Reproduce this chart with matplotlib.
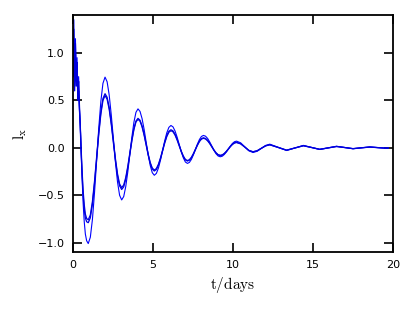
import matplotlib
matplotlib.use("Agg")
import matplotlib.pyplot as plt

plt.rcParams['mathtext.fontset'] = 'cm'

# values: outer curve (a) and two inner curves (b, c)
t_days = [0, 0.05, 0.1, 0.15, 0.2, 0.25, 0.3, 0.35, 0.4, 0.45, 0.5, 0.56, 0.63, 0.7, 0.77, 0.85, 0.95,
          1.081, 1.213, 1.344, 1.475, 1.606, 1.738, 1.869, 2.0,
          2.13, 2.26, 2.39, 2.52, 2.65, 2.78, 2.91, 3.04,
          3.168, 3.295, 3.423, 3.55, 3.678, 3.805, 3.933, 4.06,
          4.188, 4.315, 4.443, 4.57, 4.698, 4.825, 4.953, 5.08,
          5.21, 5.34, 5.47, 5.6, 5.73, 5.86, 5.99, 6.12,
          6.249, 6.378, 6.506, 6.635, 6.764, 6.893, 7.021, 7.15,
          7.275, 7.4, 7.525, 7.65, 7.775, 7.9, 8.025, 8.15,
          8.281, 8.413, 8.544, 8.675, 8.806, 8.938, 9.069, 9.2,
          9.328, 9.455, 9.583, 9.71, 9.838, 9.965, 10.093, 10.22,
          10.48, 10.735, 10.99, 11.25, 11.51, 11.775, 12.04, 12.3, 12.825, 13.35, 13.875,
          14.4, 14.91, 15.42, 15.945, 16.47, 16.985, 17.5, 18.025, 18.55, 19.05, 19.55, 19.7]

lx_a = [0.8, 1.35, 0.65, 1.15, 0.7, 0.95, 0.55, 0.75, 0.4, 0.25, 0.0, -0.3, -0.58, -0.78, -0.91, -0.98, -1.01,
        -0.943, -0.753, -0.469, -0.133, 0.204, 0.488, 0.679, 0.745,
        0.696, 0.556, 0.346, 0.098, -0.151, -0.361, -0.501, -0.55,
        -0.514, -0.409, -0.254, -0.07, 0.114, 0.269, 0.374, 0.41,
        0.383, 0.307, 0.194, 0.06, -0.074, -0.187, -0.263, -0.29,
        -0.27, -0.213, -0.128, -0.028, 0.073, 0.158, 0.215, 0.235,
        0.22, 0.176, 0.112, 0.035, -0.042, -0.106, -0.15, -0.165,
        -0.154, -0.122, -0.074, -0.018, 0.039, 0.087, 0.119, 0.13,
        0.122, 0.098, 0.061, 0.018, -0.026, -0.063, -0.087, -0.095,
        -0.089, -0.071, -0.045, -0.013, 0.019, 0.046, 0.064, 0.07,
        0.052, 0.01, -0.032, -0.05, -0.037, -0.006, 0.025, 0.038, 0.0045, -0.029, -0.002,
        0.025, 0.0035, -0.018, -0.001, 0.016, 0.003, -0.01, -0.0005, 0.009, 0.002, -0.005, -0.003]

lx_b = [0.9, 1.25, 0.7, 1.1, 0.75, 0.9, 0.6, 0.7, 0.45, 0.25, 0.02, -0.22, -0.45, -0.6, -0.7, -0.745, -0.76,
        -0.709, -0.565, -0.35, -0.095, 0.16, 0.375, 0.519, 0.57,
        0.532, 0.425, 0.265, 0.075, -0.115, -0.275, -0.382, -0.42,
        -0.392, -0.313, -0.195, -0.055, 0.085, 0.203, 0.282, 0.31,
        0.29, 0.23, 0.142, 0.038, -0.067, -0.155, -0.214, -0.235,
        -0.219, -0.173, -0.104, -0.023, 0.059, 0.128, 0.174, 0.19,
        0.178, 0.142, 0.09, 0.028, -0.035, -0.087, -0.123, -0.135,
        -0.126, -0.1, -0.061, -0.015, 0.031, 0.07, 0.096, 0.105,
        0.098, 0.078, 0.048, 0.013, -0.023, -0.053, -0.073, -0.08,
        -0.075, -0.06, -0.037, -0.011, 0.015, 0.038, 0.053, 0.058,
        0.043, 0.008, -0.028, -0.043, -0.032, -0.005, 0.021, 0.032, 0.0035, -0.025, -0.0015,
        0.022, 0.003, -0.016, -0.001, 0.014, 0.0025, -0.009, 0.0, 0.008, 0.002, -0.004, -0.002]

lx_c = [0.75, 1.15, 0.6, 1.0, 0.65, 0.85, 0.5, 0.6, 0.4, 0.22, -0.02, -0.27, -0.5, -0.65, -0.74, -0.78, -0.79,
        -0.739, -0.594, -0.377, -0.12, 0.137, 0.354, 0.499, 0.55,
        0.512, 0.405, 0.245, 0.055, -0.135, -0.295, -0.402, -0.44,
        -0.412, -0.332, -0.212, -0.07, 0.072, 0.192, 0.272, 0.30,
        0.28, 0.22, 0.132, 0.028, -0.077, -0.165, -0.224, -0.245,
        -0.229, -0.183, -0.114, -0.033, 0.049, 0.118, 0.164, 0.18,
        0.168, 0.133, 0.081, 0.02, -0.041, -0.093, -0.128, -0.14,
        -0.131, -0.105, -0.066, -0.02, 0.026, 0.065, 0.091, 0.10,
        0.093, 0.073, 0.044, 0.009, -0.026, -0.055, -0.075, -0.082,
        -0.077, -0.062, -0.04, -0.014, 0.013, 0.035, 0.05, 0.055,
        0.041, 0.007, -0.028, -0.042, -0.031, -0.005, 0.02, 0.031, 0.003, -0.026, -0.002,
        0.021, 0.0025, -0.017, -0.002, 0.013, 0.002, -0.01, -0.001, 0.007, 0.001, -0.004, -0.002]

x_ticks = [0, 5, 10, 15, 20]
y_ticks = [-1.0, -0.5, 0.0, 0.5, 1.0]

fig = plt.figure(figsize=(4.15, 3.12), dpi=100)
ax = fig.add_axes([0.176, 0.192, 0.771, 0.760])

ax.plot(t_days, lx_a, color='#0000ff', lw=0.8)
ax.plot(t_days, lx_b, color='#0000dd', lw=0.9)
ax.plot(t_days, lx_c, color='#0000dd', lw=0.9)

ax.set_xlim(0, 20)
ax.set_ylim(-1.1, 1.4)
ax.set_xticks(x_ticks)
ax.set_yticks(y_ticks)
ax.set_xticklabels([str(v) for v in x_ticks])
ax.set_yticklabels(['\u2212' + f'{abs(v):.1f}' if v < 0 else f'{v:.1f}' for v in y_ticks])
ax.tick_params(direction='in', length=6.5, width=1.2, top=True, right=True,
               labelsize=8, pad=6)
for s in ax.spines.values():
    s.set_linewidth(1.3)

ax.set_xlabel(r'$\mathrm{t/days}$', fontsize=11, labelpad=3)
ax.set_ylabel(r'$\mathrm{l_x}$', fontsize=11, labelpad=6)

fig.savefig('out.png', dpi=100)
